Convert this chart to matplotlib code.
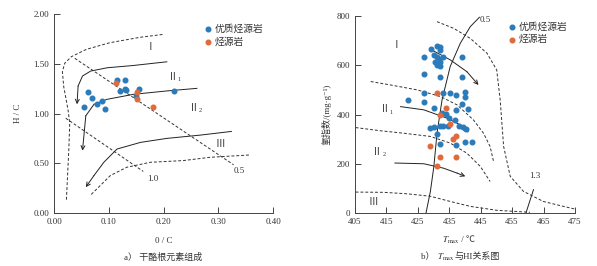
import matplotlib
matplotlib.use('AGG')
import matplotlib.pyplot as plt
from matplotlib.offsetbox import TextArea, HPacker, AnchoredOffsetbox

plt.rcParams['font.family'] = ['Liberation Serif', 'Noto Sans CJK SC', 'DejaVu Sans']
plt.rcParams['mathtext.fontset'] = 'stix'

BLUE = '#2b7bba'
ORANGE = '#e06a3b'
TXT = '#333333'

# --- panel a: H/C vs O/C ---
a_good_oc = [0.062, 0.055, 0.069, 0.078, 0.088, 0.094, 0.115, 0.130, 0.121, 0.130, 0.132, 0.150, 0.155, 0.220]
a_good_hc = [1.217, 1.07, 1.157, 1.10, 1.127, 1.043, 1.333, 1.34, 1.23, 1.25, 1.233, 1.177, 1.25, 1.227]
a_src_oc = [0.114, 0.152, 0.151, 0.180]
a_src_hc = [1.31, 1.22, 1.143, 1.07]

a_outer_x = [0.0226, 0.027, 0.0287, 0.0256, 0.0177, 0.0153, 0.0195, 0.0318, 0.059, 0.102, 0.157, 0.20]
a_outer_y = [0.134, 0.635, 0.903, 1.037, 1.27, 1.42, 1.505, 1.572, 1.645, 1.712, 1.766, 1.796]
a_iso05_x = [0.0379, 0.328]
a_iso05_y = [1.555, 0.485]
a_iso10_x = [0.0214, 0.163]
a_iso10_y = [0.953, 0.418]
a_lower_x = [0.068, 0.103, 0.133, 0.176, 0.236, 0.285, 0.356]
a_lower_y = [0.187, 0.377, 0.46, 0.51, 0.527, 0.56, 0.583]

a_path1_x = [0.206, 0.145, 0.097, 0.067, 0.052, 0.044, 0.042]
a_path1_y = [1.52, 1.483, 1.46, 1.427, 1.377, 1.277, 1.093]
a_path2_x = [0.261, 0.206, 0.145, 0.097, 0.073, 0.058, 0.052]
a_path2_y = [1.253, 1.227, 1.193, 1.143, 1.093, 0.977, 0.627]
a_path3_x = [0.324, 0.267, 0.206, 0.158, 0.115, 0.091, 0.073, 0.058]
a_path3_y = [0.82, 0.783, 0.75, 0.71, 0.643, 0.51, 0.377, 0.26]

# --- panel b: HI vs Tmax ---
b_good_t = [427.1, 429.1, 427.1, 431.0, 431.9, 432.1, 430.2, 431.0, 431.6, 430.5, 432.1, 431.0, 432.1,
            433.1, 432.1, 439.2, 439.2, 422.0, 427.1, 427.1, 432.9, 435.3, 437.2, 440.0, 440.0, 439.2,
            441.1, 428.9, 430.0, 432.6, 434.0, 435.0, 436.9, 437.2, 432.1, 433.0, 434.7, 430.0, 431.2,
            438.2, 439.5, 440.3, 432.1, 437.2, 440.0, 442.1]
b_good_hi = [565, 665, 632, 680, 676, 662, 642, 632, 624, 615, 615, 601, 595,
             632, 554, 632, 551, 457, 486, 449, 489, 489, 480, 493, 470, 443,
             422, 345, 426, 405, 401, 385, 378, 419, 354, 354, 354, 351, 320,
             354, 349, 341, 280, 277, 289, 289]
b_src_t = [431.0, 434.0, 432.1, 435.2, 437.0, 436.1, 428.9, 432.2, 437.2, 431.1]
b_src_hi = [489, 426, 399, 360, 314, 300, 274, 227, 227, 192]

b_r05_t = [427.6, 429.0, 430.1, 431.1, 432.7, 435.3, 438.5, 441.7, 444.6]
b_r05_hi = [0, 88, 189, 324, 459, 595, 689, 757, 795]
b_r13_t = [459.4, 461.8]
b_r13_hi = [0, 95]
b_bnd1_t = [431.1, 436.4, 441.7, 447.0, 450.1, 451.2, 452.3, 454.4, 458.6, 464.9, 471.3, 475.0]
b_bnd1_hi = [777, 750, 709, 649, 581, 459, 270, 149, 88, 47, 27, 16]
b_bnd2_t = [410.0, 416.3, 424.8, 432.2, 437.5, 442.7, 445.9, 448.0, 449.1]
b_bnd2_hi = [534, 520, 500, 473, 439, 378, 324, 270, 209]
b_bnd3_t = [405.2, 413.1, 420.5, 429.0, 435.3, 440.6, 444.9, 448.0]
b_bnd3_hi = [347, 334, 324, 311, 284, 243, 189, 128]
b_bnd4_t = [405.2, 414.2, 421.6, 429.0, 435.3, 441.7, 450.1, 460.7]
b_bnd4_hi = [85, 84, 78, 68, 47, 27, 11, 3]

b_path1_t = [429.0, 435.3, 440.6, 444.3]
b_path1_hi = [665, 622, 574, 520]
b_path2_t = [419.5, 426.9, 434.3, 438.5, 441.2]
b_path2_hi = [432, 419, 385, 358, 327]
b_path3_t = [417.7, 426.9, 433.2, 437.5, 440.1]
b_path3_hi = [203, 200, 182, 162, 149]

LW = 0.7
DASH = dict(color='#333333', lw=LW, ls=(0, (3, 2)))
SOLID = dict(color='#222222', lw=LW)


def arrow_path(ax, xs, ys):
    ax.plot(xs[:-1], ys[:-1], **SOLID)
    ax.annotate('', xy=(xs[-1], ys[-1]), xytext=(xs[-2], ys[-2]),
                arrowprops=dict(arrowstyle='->', color='#222222', lw=LW,
                                shrinkA=0, shrinkB=0, mutation_scale=7))


def style_axes(ax):
    for side in ('top', 'right'):
        ax.spines[side].set_visible(False)
    for side in ('left', 'bottom'):
        ax.spines[side].set_linewidth(0.7)
        ax.spines[side].set_color('#444444')
    ax.tick_params(direction='in', length=4, width=0.7, labelsize=6.5,
                   colors='#444444', labelcolor=TXT)


def packed_text(fig, parts, xy, size=6.5):
    """Place several text pieces side by side (keeps CJK out of mathtext)."""
    kids = [TextArea(p, textprops=dict(fontsize=size, color=TXT)) for p in parts]
    box = HPacker(children=kids, align='baseline', pad=0, sep=0)
    anchored = AnchoredOffsetbox(loc='center', child=box, pad=0, frameon=False,
                                 bbox_to_anchor=xy, bbox_transform=fig.transFigure,
                                 borderpad=0)
    fig.add_artist(anchored)


fig = plt.figure(figsize=(5.97, 2.66), dpi=100)

# ---- panel a ----
ax1 = fig.add_axes([0.0905, 0.1992, 0.3668, 0.748])
ax1.plot(a_outer_x, a_outer_y, **DASH)
ax1.plot(a_iso05_x, a_iso05_y, **DASH)
ax1.plot(a_iso10_x, a_iso10_y, **DASH)
ax1.plot(a_lower_x, a_lower_y, **DASH)
arrow_path(ax1, a_path1_x, a_path1_y)
arrow_path(ax1, a_path2_x, a_path2_y)
arrow_path(ax1, a_path3_x, a_path3_y)
ax1.scatter(a_good_oc, a_good_hc, s=11, color=BLUE, zorder=3, label='优质烃源岩')
ax1.scatter(a_src_oc, a_src_hc, s=11, color=ORANGE, zorder=3, label='烃源岩')
lab = dict(fontsize=7, color=TXT, ha='center', va='center')
sub = dict(fontsize=4.5, color=TXT, ha='center', va='center')
ax1.text(0.176, 1.66, 'Ⅰ', **lab)
ax1.text(0.218, 1.36, 'Ⅱ', **lab)
ax1.text(0.229, 1.34, '1', **sub)
ax1.text(0.256, 1.05, 'Ⅱ', **lab)
ax1.text(0.267, 1.03, '2', **sub)
ax1.text(0.304, 0.693, 'Ⅲ', **lab)
ax1.text(0.339, 0.418, '0.5', fontsize=6.5, color=TXT, ha='center', va='center')
ax1.text(0.181, 0.344, '1.0', fontsize=6.5, color=TXT, ha='center', va='center')
ax1.set_xlim(0, 0.40)
ax1.set_ylim(0, 2.0)
ax1.set_xticks([0, 0.1, 0.2, 0.3, 0.4])
ax1.set_xticklabels(['0.00', '0.10', '0.20', '0.30', '0.40'])
ax1.set_yticks([0, 0.5, 1.0, 1.5, 2.0])
ax1.set_yticklabels(['0.00', '0.50', '1.00', '1.50', '2.00'])
style_axes(ax1)
ax1.set_xlabel('0 / C', fontsize=6.5, color=TXT, labelpad=8)
ax1.set_ylabel('H / C', fontsize=6.5, color=TXT, labelpad=8)
ax1.legend(loc='upper left', bbox_to_anchor=(0.66, 0.97), frameon=False, fontsize=7,
           handletextpad=0.1, borderaxespad=0, labelspacing=0.3, handlelength=1.2,
           labelcolor=TXT)

# ---- panel b ----
ax2 = fig.add_axes([0.5946, 0.1992, 0.3685, 0.7406])
ax2.plot(b_r05_t, b_r05_hi, **SOLID)
ax2.plot(b_r13_t, b_r13_hi, **SOLID)
ax2.plot(b_bnd1_t, b_bnd1_hi, **DASH)
ax2.plot(b_bnd2_t, b_bnd2_hi, **DASH)
ax2.plot(b_bnd3_t, b_bnd3_hi, **DASH)
ax2.plot(b_bnd4_t, b_bnd4_hi, **DASH)
arrow_path(ax2, b_path1_t, b_path1_hi)
arrow_path(ax2, b_path2_t, b_path2_hi)
arrow_path(ax2, b_path3_t, b_path3_hi)
ax2.scatter(b_good_t, b_good_hi, s=11, color=BLUE, zorder=3, label='优质烃源岩')
ax2.scatter(b_src_t, b_src_hi, s=11, color=ORANGE, zorder=3, label='烃源岩')
ax2.text(418.2, 682, 'Ⅰ', **lab)
ax2.text(414.4, 419, 'Ⅱ', **lab)
ax2.text(416.6, 410, '1', **sub)
ax2.text(412.1, 246, 'Ⅱ', **lab)
ax2.text(414.3, 237, '2', **sub)
ax2.text(410.8, 43, 'Ⅲ', **lab)
ax2.text(446.6, 784, '0.5', fontsize=6.5, color=TXT, ha='center', va='center')
ax2.text(462.3, 149, '1.3', fontsize=6.5, color=TXT, ha='center', va='center')
ax2.set_xlim(405, 475)
ax2.set_ylim(0, 800)
ax2.set_xticks(range(405, 476, 10))
ax2.set_yticks(range(0, 801, 200))
style_axes(ax2)
ax2.set_ylabel('氢指数/(mg·g⁻¹)', fontsize=6.5, color=TXT, labelpad=4)
ax2.legend(loc='upper left', bbox_to_anchor=(0.67, 0.99), frameon=False, fontsize=7,
           handletextpad=0.1, borderaxespad=0, labelspacing=0.3, handlelength=1.2,
           labelcolor=TXT)

packed_text(fig, [r'$T_{\rm max}$', ' / ℃'], (0.768, 0.098))
packed_text(fig, ['a） 干酪根元素组成'], (0.273, 0.034))
packed_text(fig, ['b） ', r'$T_{\rm max}$', '与HI关系图'], (0.771, 0.034))

fig.savefig('out.png', dpi=100)
